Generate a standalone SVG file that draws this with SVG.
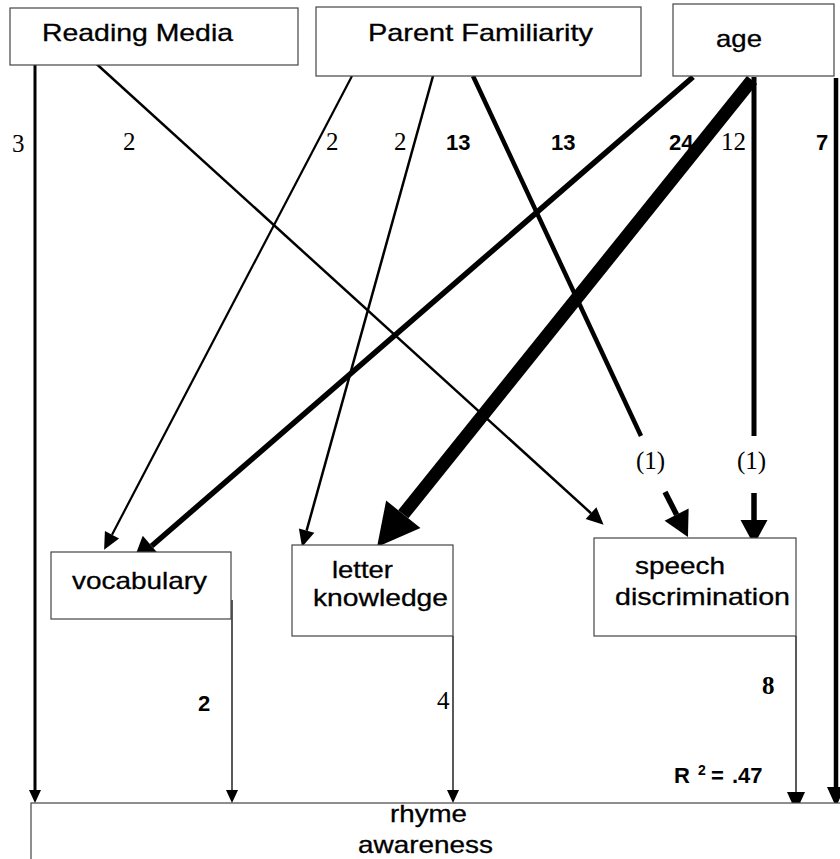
<svg xmlns="http://www.w3.org/2000/svg" width="840" height="859" viewBox="0 0 840 859">
<defs>
<style>
.box{fill:#fff;stroke:#444;stroke-width:1.2}
.lbl{font-family:"Liberation Sans",Arial,sans-serif;font-size:24px;fill:#000;stroke:#000;stroke-width:0.3}
.ser{font-family:"Liberation Serif","Times New Roman",serif;font-size:25px;fill:#000}
.bld{font-family:"Liberation Sans",Arial,sans-serif;font-size:22px;font-weight:bold;fill:#000}
.ln{fill:none;stroke:#000}
</style>
<marker id="mS" markerUnits="userSpaceOnUse" markerWidth="13" markerHeight="12" refX="0" refY="6" orient="auto" overflow="visible"><path d="M0,0 L13,6 L0,12 z" fill="#000"/></marker>
<marker id="mM" markerUnits="userSpaceOnUse" markerWidth="17" markerHeight="16" refX="0" refY="8" orient="auto" overflow="visible"><path d="M0,0 L17,8 L0,16 z" fill="#000"/></marker>
<marker id="mR" markerUnits="userSpaceOnUse" markerWidth="20" markerHeight="18" refX="0" refY="9" orient="auto" overflow="visible"><path d="M0,0 L20,9 L0,18 z" fill="#000"/></marker>
<marker id="mL" markerUnits="userSpaceOnUse" markerWidth="25" markerHeight="27" refX="0" refY="13.5" orient="auto" overflow="visible"><path d="M0,0 L25,13.5 L0,27 z" fill="#000"/></marker>
<marker id="mXL" markerUnits="userSpaceOnUse" markerWidth="42" markerHeight="44" refX="0" refY="22" orient="auto" overflow="visible"><path d="M0,0 L42,22 L0,44 z" fill="#000"/></marker>
</defs>
<rect width="840" height="859" fill="#fff"/>

<g id="connectors">
<line class="ln" x1="35" y1="65" x2="35" y2="790" stroke-width="3" marker-end="url(#mS)"/>
<line class="ln" x1="90" y1="58" x2="591" y2="513.2" stroke-width="2.5" marker-end="url(#mM)"/>
<line class="ln" x1="352" y1="76" x2="112" y2="534.7" stroke-width="2.2" marker-end="url(#mM)"/>
<line class="ln" x1="433" y1="76" x2="306.6" y2="530.6" stroke-width="2.5" marker-end="url(#mM)"/>
<line class="ln" x1="473" y1="76" x2="641" y2="436" stroke-width="4.5"/>
<line class="ln" x1="665" y1="492" x2="676.6" y2="514.7" stroke-width="5.5" marker-end="url(#mL)"/>
<line class="ln" x1="693" y1="77" x2="151.6" y2="546" stroke-width="5.5" marker-end="url(#mL)"/>
<line class="ln" x1="752" y1="80" x2="403.3" y2="514.3" stroke-width="13" marker-end="url(#mXL)"/>
<line class="ln" x1="754" y1="77" x2="754" y2="436" stroke-width="5"/>
<line class="ln" x1="754" y1="493" x2="754" y2="520" stroke-width="5.5" marker-end="url(#mL)"/>
<line class="ln" x1="836" y1="78" x2="836" y2="787" stroke-width="4.5" marker-end="url(#mR)"/>
<line class="ln" x1="232" y1="600" x2="232" y2="790" stroke-width="1.3" marker-end="url(#mS)"/>
<line class="ln" x1="453" y1="636" x2="453" y2="790" stroke-width="1.3" marker-end="url(#mS)"/>
<line class="ln" x1="796" y1="636" x2="796" y2="792" stroke-width="1.3" marker-end="url(#mR)"/>
</g>

<g id="edge-labels">
<text class="ser" x="12" y="152">3</text>
<text class="ser" x="123" y="150">2</text>
<text class="ser" x="326" y="150">2</text>
<text class="ser" x="394" y="150">2</text>
<text class="bld" x="446" y="150">13</text>
<text class="bld" x="551" y="150">13</text>
<text class="bld" x="669" y="150">24</text>
<text class="ser" x="721" y="150">12</text>
<text class="bld" x="816" y="150">7</text>
<text class="ser" x="636" y="469">(1)</text>
<text class="ser" x="737" y="469">(1)</text>
<text class="bld" x="198" y="711">2</text>
<text class="ser" x="437" y="709">4</text>
<text class="ser" x="762" y="694" font-weight="bold">8</text>
<text class="bld" y="783"><tspan x="674">R</tspan><tspan x="698" y="775" font-size="14">2</tspan><tspan x="711" y="783">=</tspan><tspan x="732">.47</tspan></text>
</g>

<g id="node-reading-media">
<rect class="box" x="10" y="8" width="288" height="57"/>
<text class="lbl" x="42" y="41" textLength="191" lengthAdjust="spacingAndGlyphs">Reading Media</text>
</g>
<g id="node-parent-familiarity">
<rect class="box" x="316" y="7" width="325" height="69"/>
<text class="lbl" x="368" y="41" textLength="225" lengthAdjust="spacingAndGlyphs">Parent Familiarity</text>
</g>
<g id="node-age">
<rect class="box" x="673" y="4" width="161" height="72"/>
<text class="lbl" x="716" y="47" textLength="46" lengthAdjust="spacingAndGlyphs">age</text>
</g>
<g id="node-vocabulary">
<rect class="box" x="51" y="552" width="180" height="67"/>
<text class="lbl" x="72" y="589" textLength="135" lengthAdjust="spacingAndGlyphs">vocabulary</text>
</g>
<g id="node-letter-knowledge">
<rect class="box" x="292" y="545" width="161" height="91"/>
<text class="lbl" x="332" y="578" textLength="61" lengthAdjust="spacingAndGlyphs">letter</text>
<text class="lbl" x="313" y="606" textLength="135" lengthAdjust="spacingAndGlyphs">knowledge</text>
</g>
<g id="node-speech-discrimination">
<rect class="box" x="594" y="538" width="202" height="98"/>
<text class="lbl" x="635" y="574" textLength="90" lengthAdjust="spacingAndGlyphs">speech</text>
<text class="lbl" x="615" y="605" textLength="175" lengthAdjust="spacingAndGlyphs">discrimination</text>
</g>
<g id="node-rhyme-awareness">
<rect class="box" x="31" y="803" width="830" height="80"/>
<text class="lbl" x="390" y="822" textLength="77" lengthAdjust="spacingAndGlyphs">rhyme</text>
<text class="lbl" x="358" y="853" textLength="135" lengthAdjust="spacingAndGlyphs">awareness</text>
</g>
</svg>
